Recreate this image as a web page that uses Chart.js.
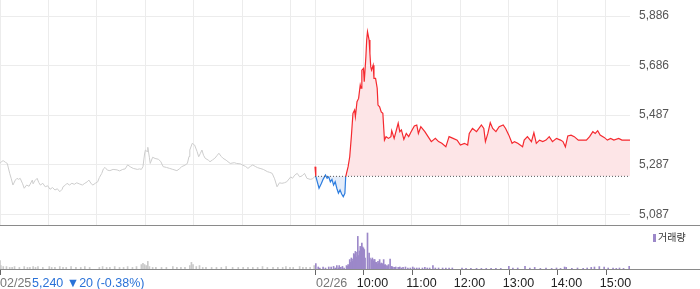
<!DOCTYPE html>
<html lang="ko">
<head>
<meta charset="utf-8">
<title>일중 주가 차트</title>
<script src="https://cdn.jsdelivr.net/npm/chart.js@4.4.1/dist/chart.umd.min.js"></script>
<style>
  html, body { margin: 0; padding: 0; background: #fff; }
  .wrap { position: relative; width: 700px; height: 289px; overflow: hidden; font-family: "Liberation Sans", Arial, sans-serif; }
  #price-chart { position: absolute; left: 0; top: 0; }
  #volume-chart { position: absolute; left: 0; top: 225px; }
  .quote { position: absolute; left: 32px; top: 275px; font-size: 12.5px; line-height: 16px; color: #2a72d8; white-space: nowrap; }
  .legend { position: absolute; left: 653px; top: 231px; font-size: 10px; line-height: 12px; color: #333; white-space: nowrap; font-family: "Noto Sans CJK KR", sans-serif; }
  .legend i { display: inline-block; width: 3px; height: 8px; background: #9c88c9; margin-right: 2px; vertical-align: -1px; }
</style>
</head>
<body>
<div class="wrap">
  <canvas id="price-chart" width="700" height="225"></canvas>
  <canvas id="volume-chart" width="700" height="64"></canvas>
  <div class="quote">5,240 ▼20 (-0.38%)</div>
  <div class="legend"><i></i>거래량</div>
</div>
<script>
(function () {
  "use strict";

  // ── Data ───────────────────────────────────
  var prevClose = 5240;

  var day1Times = [
    "09:00","09:02","09:04","09:07","09:09","09:12","09:14","09:16","09:19","09:21","09:23","09:25","09:28","09:30","09:33","09:36",
    "09:40","09:41","09:43","09:46","09:48","09:50","09:53","09:56","09:59","10:02","10:05","10:08","10:11","10:14","10:17","10:18",
    "10:21","10:23","10:26","10:29","10:32","10:35","10:38","10:42","10:45","10:48","10:50","10:53","10:55","10:58","11:01","11:03",
    "11:06","11:08","11:10","11:13","11:16","11:20","11:25","11:28","11:32","11:35","11:38","11:42","11:45","11:50","11:53","11:55",
    "11:57","11:59","12:00","12:02","12:03","12:05","12:06","12:09","12:12","12:16","12:19","12:22","12:26","12:30","12:34","12:39",
    "12:42","12:45","12:49","12:52","12:54","12:55","12:58","13:00","13:01","13:04","13:06","13:08","13:10","13:12","13:14","13:18",
    "13:20","13:23","13:26","13:29","13:31","13:34","13:36","13:40","13:45","13:50","13:53","13:58","14:00","14:04","14:07","14:10",
    "14:13","14:16","14:19","14:22","14:26","14:31","14:34","14:37","14:40","14:43","14:46","14:49","14:52","14:55","15:00","15:02",
    "15:05","15:08","15:11","15:14","15:17","15:20","15:24","15:27","15:30"
  ];
  var day1Prices = [
    5292,5300,5303,5296,5292,5252,5230,5205,5225,5232,5228,5232,5210,5192,5205,5200,
    5225,5210,5222,5232,5215,5205,5212,5198,5202,5188,5195,5185,5190,5178,5188,5198,
    5205,5212,5205,5212,5208,5214,5210,5205,5212,5218,5225,5210,5205,5212,5218,5235,
    5252,5270,5276,5265,5263,5268,5266,5262,5268,5270,5286,5277,5272,5268,5270,5268,
    5279,5330,5346,5340,5357,5315,5292,5317,5312,5309,5300,5279,5276,5272,5268,5263,
    5270,5279,5285,5292,5320,5346,5373,5368,5366,5340,5319,5332,5346,5325,5313,5305,
    5299,5306,5313,5325,5333,5320,5313,5305,5292,5295,5292,5290,5286,5280,5272,5280,
    5286,5280,5275,5272,5268,5259,5256,5252,5230,5198,5214,5212,5214,5218,5238,5232,
    5245,5252,5238,5242,5252,5232,5228,5230,5240
  ];

  var day2Times = [
    "09:00","09:01","09:05","09:08","09:10","09:13","09:15","09:17","09:19","09:21","09:23","09:25","09:27","09:29","09:31","09:33",
    "09:35","09:37","09:38","09:39","09:41","09:43","09:45","09:47","09:49","09:50","09:52","09:54","09:56","09:57","09:58","10:00",
    "10:01","10:03","10:04","10:05","10:07","10:08","10:09","10:10","10:12","10:13","10:15","10:17","10:18","10:20","10:22","10:24",
    "10:26","10:28","10:31","10:34","10:35","10:38","10:43","10:45","10:47","10:50","10:53","10:56","10:59","11:03","11:06","11:08",
    "11:11","11:16","11:20","11:24","11:29","11:33","11:37","11:42","11:46","11:51","11:56","12:00","12:05","12:09","12:11","12:15",
    "12:20","12:26","12:29","12:31","12:34","12:37","12:40","12:44","12:48","12:53","12:56","13:00","13:04","13:07","13:11","13:17",
    "13:19","13:23","13:28","13:31","13:34","13:38","13:42","13:46","13:50","13:54","13:59","14:04","14:07","14:10","14:13","14:17",
    "14:21","14:26","14:31","14:36","14:40","14:44","14:47","14:50","14:53","14:58","15:02","15:06","15:10","15:16","15:20","15:30"
  ];
  var day2Prices = [
    5279,5240,5192,5212,5228,5245,5232,5238,5218,5228,5205,5218,5192,5172,5185,5169,
    5158,5172,5238,5252,5279,5319,5400,5494,5507,5480,5541,5554,5608,5595,5668,5675,
    5621,5722,5789,5823,5789,5735,5682,5668,5688,5635,5635,5595,5527,5520,5500,5494,
    5386,5400,5393,5400,5424,5393,5454,5420,5427,5389,5413,5400,5420,5443,5447,5413,
    5440,5420,5400,5380,5393,5380,5373,5359,5400,5393,5386,5366,5373,5366,5413,5433,
    5420,5447,5433,5380,5413,5456,5433,5420,5440,5447,5433,5406,5373,5380,5373,5359,
    5386,5400,5380,5416,5373,5386,5380,5386,5400,5380,5393,5386,5380,5359,5403,5406,
    5400,5386,5386,5386,5400,5420,5413,5424,5406,5397,5386,5393,5386,5393,5386,5386
  ];

  var vol1Times = [
    "09:00","09:01","09:04","09:08","09:12","09:15","09:18","09:24","09:30","09:34","09:37","09:41","09:44","09:47","09:53","10:01",
    "10:04","10:08","10:14","10:18","10:22","10:28","10:34","10:40","10:45","10:51","11:03","11:07","11:12","11:16","11:22","11:28",
    "11:33","11:38","11:44","11:49","11:55","11:57","11:59","12:01","12:03","12:05","12:09","12:13","12:20","12:26","12:34","12:39",
    "12:44","12:49","12:55","12:57","12:59","13:03","13:07","13:11","13:15","13:22","13:28","13:34","13:40","13:48","13:55","14:01",
    "14:07","14:13","14:19","14:25","14:31","14:38","14:44","14:50","14:54","14:59","15:03","15:11","15:15","15:19","15:24","15:29"
  ];
  var vol1Values = [
    42,17,12,12,8,8,12,8,12,8,8,12,8,12,8,12,
    8,8,12,8,8,12,8,8,12,8,8,12,8,8,12,8,
    8,12,8,12,22,28,22,17,38,12,8,8,8,8,12,8,
    8,8,17,33,22,12,17,8,8,8,8,8,12,8,8,8,
    8,8,8,12,8,8,8,8,12,8,8,12,8,8,8,17
  ];

  var vol2Times = [
    "09:01","09:04","09:06","09:10","09:13","09:17","09:20","09:23","09:25","09:27","09:29","09:30","09:32","09:34","09:36","09:39",
    "09:40","09:41","09:42","09:43","09:44","09:45","09:46","09:47","09:48","09:49","09:50","09:51","09:52","09:53","09:54","09:55",
    "09:56","09:57","09:58","09:59","10:00","10:01","10:02","10:05","10:07","10:08","10:10","10:11","10:12","10:13","10:14","10:15",
    "10:16","10:17","10:18","10:19","10:20","10:21","10:22","10:23","10:24","10:25","10:26","10:27","10:29","10:30","10:31","10:33",
    "10:35","10:36","10:38","10:40","10:43","10:45","10:47","10:49","10:52","10:55","10:58","11:01","11:03","11:06","11:09","11:13",
    "11:16","11:19","11:22","11:26","11:29","11:33","11:38","11:42","11:46","11:50","12:02","12:07","12:13","12:20","12:26","12:32",
    "12:38","12:44","12:50","13:00","13:05","13:11","13:20","13:26","13:32","13:39","13:46","13:53","13:59","14:04","14:09","14:11",
    "14:18","14:25","14:32","14:37","14:42","14:46","14:52","14:58","15:03","15:09","15:13","15:17","15:22","15:29"
  ];
  var vol2Values = [
    27,10,5,10,5,10,10,13,5,17,5,17,8,13,5,17,
    13,22,17,47,33,55,38,50,77,72,88,60,83,163,67,90,
    113,97,130,110,105,97,55,180,80,55,47,55,38,47,47,33,
    33,25,38,30,47,25,30,20,27,47,20,22,17,13,22,50,
    13,10,8,10,8,10,5,8,10,5,5,10,5,5,5,5,
    8,5,5,17,5,5,5,5,5,5,5,3,3,3,3,3,
    3,3,3,13,5,5,13,5,8,3,5,3,5,3,10,8,
    3,5,3,5,8,10,12,10,5,5,3,5,3,13
  ];

  var priceTickValues = [5087, 5286.75, 5486.5, 5686.25, 5886];
  var priceTickLabels = ["5,087", "5,287", "5,487", "5,686", "5,886"];

  var gridTimes = [
    [0, "09:00"], [0, "10:00"], [0, "11:00"], [0, "12:00"], [0, "13:00"], [0, "14:00"], [0, "15:00"],
    [1, "09:00"], [1, "10:00"], [1, "11:00"], [1, "12:00"], [1, "13:00"], [1, "14:00"], [1, "15:00"]
  ];
  var axisLabels = ["02/25", "02/26", "10:00", "11:00", "12:00", "13:00", "14:00", "15:00"];
  var axisLabelTimes = [[0, "09:00"], [1, "09:00"], [1, "10:00"], [1, "11:00"], [1, "12:00"], [1, "13:00"], [1, "14:00"], [1, "15:00"]];

  // ── Helpers ────────────────────────────────
  // minutes since the first session opened; each session is 390 minutes
  function toMinute(day, t) {
    var p = t.split(":");
    return day * 390 + (parseInt(p[0], 10) - 9) * 60 + parseInt(p[1], 10);
  }
  function points(day, times, values) {
    return times.map(function (t, i) {
      return { x: toMinute(day, t), y: values[i] };
    });
  }

  var FONT = "'Liberation Sans', Arial, sans-serif";
  var RED = "#f5292f";
  var BLUE = "#2d7ddf";
  var GRID = "#ececec";

  // ── Price chart ────────────────────────────
  new Chart(document.getElementById("price-chart"), {
    type: "line",
    data: {
      datasets: [
        {
          data: [{ x: toMinute(1, "09:00"), y: prevClose }, { x: toMinute(1, "15:30"), y: prevClose }],
          borderColor: "#555",
          borderWidth: 1,
          borderDash: [1, 2],
          pointRadius: 0,
          fill: false,
          order: 0,
        },
        {
          data: points(1, day2Times, day2Prices),
          borderColor: RED,
          borderWidth: 1.2,
          pointRadius: 0,
          segment: {
            borderColor: function (c) {
              return c.p0.parsed.y + c.p1.parsed.y >= 2 * prevClose ? RED : BLUE;
            },
          },
          fill: { target: { value: prevClose }, above: "#fde5e7", below: "#e4edfa" },
          order: 1,
        },
        {
          data: points(0, day1Times, day1Prices),
          borderColor: "#cdcdcd",
          borderWidth: 1,
          pointRadius: 0,
          fill: false,
          order: 2,
        },
      ],
    },
    options: {
      responsive: false,
      animation: false,
      events: [],
      layout: { padding: 0 },
      plugins: { legend: { display: false }, tooltip: { enabled: false } },
      scales: {
        x: {
          type: "linear",
          min: 0,
          max: 780,
          afterBuildTicks: function (s) {
            s.ticks = gridTimes.map(function (g) { return { value: toMinute(g[0], g[1]) }; });
          },
          ticks: { display: false },
          grid: { color: GRID, drawTicks: false },
          border: { display: false },
          afterFit: function (s) { s.height = 0; },
        },
        y: {
          position: "right",
          min: 5044,
          max: 5950.5,
          afterBuildTicks: function (s) {
            s.ticks = priceTickValues.map(function (v) { return { value: v }; });
          },
          ticks: {
            color: "#555",
            font: { family: FONT, size: 12 },
            padding: 9,
            callback: function (v, i) { return priceTickLabels[i]; },
          },
          grid: { color: GRID, drawTicks: false },
          border: { display: false },
          afterFit: function (s) {
            s.width = 70;
            s.paddingTop = 0;
            s.paddingBottom = 0;
          },
        },
      },
    },
  });

  // ── Volume chart + time axis ───────────────
  var timeAxis = {
    id: "timeAxis",
    afterDraw: function (chart) {
      var ctx = chart.ctx;
      var area = chart.chartArea;
      var xs = chart.scales.x;
      ctx.save();
      ctx.fillStyle = "#8a8a8a";
      ctx.fillRect(0, 0, chart.width, 1);
      ctx.fillRect(0, area.bottom, chart.width, 1);
      ctx.font = "12.5px " + FONT;
      ctx.textBaseline = "middle";
      axisLabelTimes.forEach(function (t, i) {
        var px = Math.round(xs.getPixelForValue(toMinute(t[0], t[1])));
        ctx.fillStyle = "#666";
        ctx.fillRect(px, area.bottom + 1, 1, 5);
        var isDate = axisLabels[i].indexOf("/") > -1;
        ctx.fillStyle = isDate ? "#777" : "#222";
        ctx.textAlign = isDate ? "left" : "center";
        ctx.fillText(axisLabels[i], isDate ? px + (px > 0 ? 1 : 0) : px + 9.5, area.bottom + 14.5);
      });
      ctx.restore();
    },
  };

  new Chart(document.getElementById("volume-chart"), {
    type: "bar",
    data: {
      datasets: [
        { data: points(0, vol1Times, vol1Values), backgroundColor: "#c9c9c9", barThickness: 1, grouped: false },
        { data: points(1, vol2Times, vol2Values), backgroundColor: "#9c88c9", barThickness: 1, grouped: false },
      ],
    },
    options: {
      responsive: false,
      animation: false,
      events: [],
      layout: { padding: { top: 1, bottom: 20, left: 0, right: 70 } },
      plugins: { legend: { display: false }, tooltip: { enabled: false } },
      scales: {
        x: { type: "linear", min: 0, max: 780, offset: false, display: false },
        y: { min: 0, max: 215, display: false },
      },
    },
    plugins: [timeAxis],
  });
})();
</script>
</body>
</html>
